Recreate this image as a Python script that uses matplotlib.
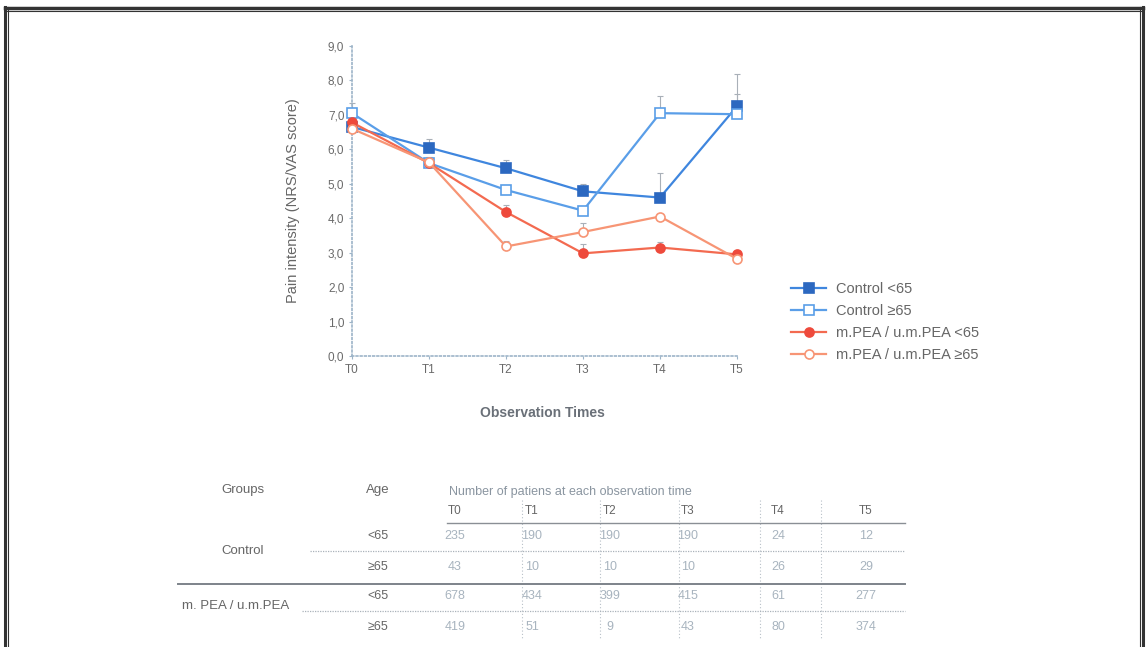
import matplotlib
matplotlib.use("Agg")
import matplotlib.pyplot as plt
from matplotlib.lines import Line2D
from matplotlib import font_manager

W, H = 1146, 647

times = ["T0", "T1", "T2", "T3", "T4", "T5"]
y_ticks = [0, 1, 2, 3, 4, 5, 6, 7, 8, 9]

ctrl_lt65 = [6.65, 6.05, 5.45, 4.78, 4.6, 7.25]
ctrl_ge65 = [7.05, 5.6, 4.82, 4.22, 7.05, 7.02]
pea_lt65 = [6.78, 5.6, 4.18, 2.98, 3.15, 2.95]
pea_ge65 = [6.6, 5.62, 3.18, 3.6, 4.05, 2.82]

# upper error only
ctrl_lt65_err = [0.0, 0.25, 0.25, 0.22, 0.7, 0.95]
ctrl_ge65_err = [0.3, 0.0, 0.0, 0.0, 0.5, 0.6]
pea_lt65_err = [0.0, 0.1, 0.2, 0.27, 0.15, 0.0]
pea_ge65_err = [0.0, 0.15, 0.17, 0.25, 0.0, 0.0]

labels = ["Control <65", "Control \u226565", "m.PEA / u.m.PEA <65", "m.PEA / u.m.PEA \u226565"]

groups = ["Control", "m. PEA / u.m.PEA"]
ages = ["<65", "\u226565", "<65", "\u226565"]
counts = [
    [235, 190, 190, 190, 24, 12],
    [43, 10, 10, 10, 26, 29],
    [678, 434, 399, 415, 61, 277],
    [419, 51, 9, 43, 80, 374],
]

installed = {f.name for f in font_manager.fontManager.ttflist}
fams = [f for f in ["DejaVu Sans Condensed", "Liberation Sans Narrow", "Liberation Sans"]
        if f in installed]
plt.rcParams['font.family'] = fams + ['DejaVu Sans']

fig = plt.figure(figsize=(W / 100, H / 100), dpi=100)


def fx(x):
    return x / W


def fy(y):
    return 1 - y / H


# frame around the figure
for x, lw in [(5, 2.2), (8, 0.8), (1140, 0.8), (1143, 2.2)]:
    fig.add_artist(Line2D([fx(x), fx(x)], [fy(7), 0], color="#333333", lw=lw))
for y, lw in [(8, 2.5), (11, 0.8)]:
    fig.add_artist(Line2D([fx(5), fx(1143)], [fy(y), fy(y)], color="#333333", lw=lw))

ax = fig.add_axes([fx(352), fy(356), (737 - 352) / W, (356 - 46) / H])
ax.set_xlim(0, 5)
ax.set_ylim(0, 9)
x = list(range(len(times)))

series = [
    (ctrl_lt65, ctrl_lt65_err, "#2c68c0", "#3f86de", "s", True),
    (ctrl_ge65, ctrl_ge65_err, "#5a9ee8", "#5a9ee8", "s", False),
    (pea_lt65, pea_lt65_err, "#ee4a3c", "#f36a50", "o", True),
    (pea_ge65, pea_ge65_err, "#f79575", "#f79575", "o", False),
]
handles = []
for (vals, err, mcol, lcol, mk, filled), lab in zip(series, labels):
    ax.errorbar(x, vals, yerr=[[0] * len(err), err], fmt="none", ecolor="#a9b0b8",
                elinewidth=0.8, capsize=2, capthick=0.8, zorder=2, clip_on=False)
    h, = ax.plot(x, vals, color=lcol, lw=1.6, marker=mk, markersize=6.5,
                 markerfacecolor=mcol if filled else "white",
                 markeredgecolor=mcol, markeredgewidth=1.2, zorder=3, clip_on=False,
                 label=lab)
    handles.append(h)

for s in ["top", "right"]:
    ax.spines[s].set_visible(False)
for s in ["left", "bottom"]:
    ax.spines[s].set_linestyle((0, (1, 1.5)))
    ax.spines[s].set_color("#9db4c8")
    ax.spines[s].set_linewidth(1.2)

ax.set_xticks(x)
ax.set_xticklabels(times)
ax.set_yticks(y_ticks)
ax.set_yticklabels([f"{v},0" for v in y_ticks])
ax.tick_params(axis="both", colors="#9db4c8", labelcolor="#6a6a6a", labelsize=8.5,
               length=2, width=0.8)
ax.set_ylabel("Pain intensity (NRS/VAS score)", color="#666666", fontsize=10.5, labelpad=20)
fig.text(fx(542), fy(413), "Observation Times", ha="center", va="center",
         color="#6a7078", fontsize=10, fontweight="bold")

fig.legend(handles=handles, loc="upper left", bbox_to_anchor=(fx(778), fy(269)),
           frameon=False, fontsize=10.5, labelcolor="#666666", handlelength=2.4,
           labelspacing=0.55, handletextpad=0.7)

# table below the chart
tcol = "#666666"
vcol = "#a8b4bf"
fig.text(fx(243), fy(490), "Groups", ha="center", va="center", color=tcol, fontsize=9.5)
fig.text(fx(378), fy(490), "Age", ha="center", va="center", color=tcol, fontsize=9.5)
fig.text(fx(449), fy(492), "Number of patiens at each observation time", ha="left",
         va="center", color="#8a95a0", fontsize=9)
col_x = [455, 532, 610, 688, 778, 866]
sep_x = [522, 600, 679, 760, 821]
for cx, t in zip(col_x, times):
    fig.text(fx(cx), fy(511), t, ha="center", va="center", color=tcol, fontsize=8.5)
for sx in sep_x:
    fig.add_artist(Line2D([fx(sx), fx(sx)], [fy(500), fy(640)], color="#b8c0c8",
                          lw=0.8, linestyle=(0, (1, 2))))
row_y = [536, 567, 596, 627]
for ry, ag, row in zip(row_y, ages, counts):
    fig.text(fx(378), fy(ry), ag, ha="center", va="center", color=tcol, fontsize=9)
    for cx, v in zip(col_x, row):
        fig.text(fx(cx), fy(ry), str(v), ha="center", va="center", color=vcol, fontsize=9)
fig.text(fx(243), fy(551), groups[0], ha="center", va="center", color=tcol, fontsize=9.5)
fig.text(fx(236), fy(606), groups[1], ha="center", va="center", color=tcol, fontsize=9.5)

fig.add_artist(Line2D([fx(447), fx(905)], [fy(523), fy(523)], color="#8a8f95", lw=1.0))
fig.add_artist(Line2D([fx(310), fx(905)], [fy(551), fy(551)], color="#aab2ba", lw=0.9,
                      linestyle=(0, (1, 1))))
fig.add_artist(Line2D([fx(178), fx(905)], [fy(584), fy(584)], color="#7d838a", lw=1.4))
fig.add_artist(Line2D([fx(302), fx(905)], [fy(611), fy(611)], color="#aab2ba", lw=0.9,
                      linestyle=(0, (1, 1))))

fig.savefig("out.png", dpi=100, facecolor="white")
